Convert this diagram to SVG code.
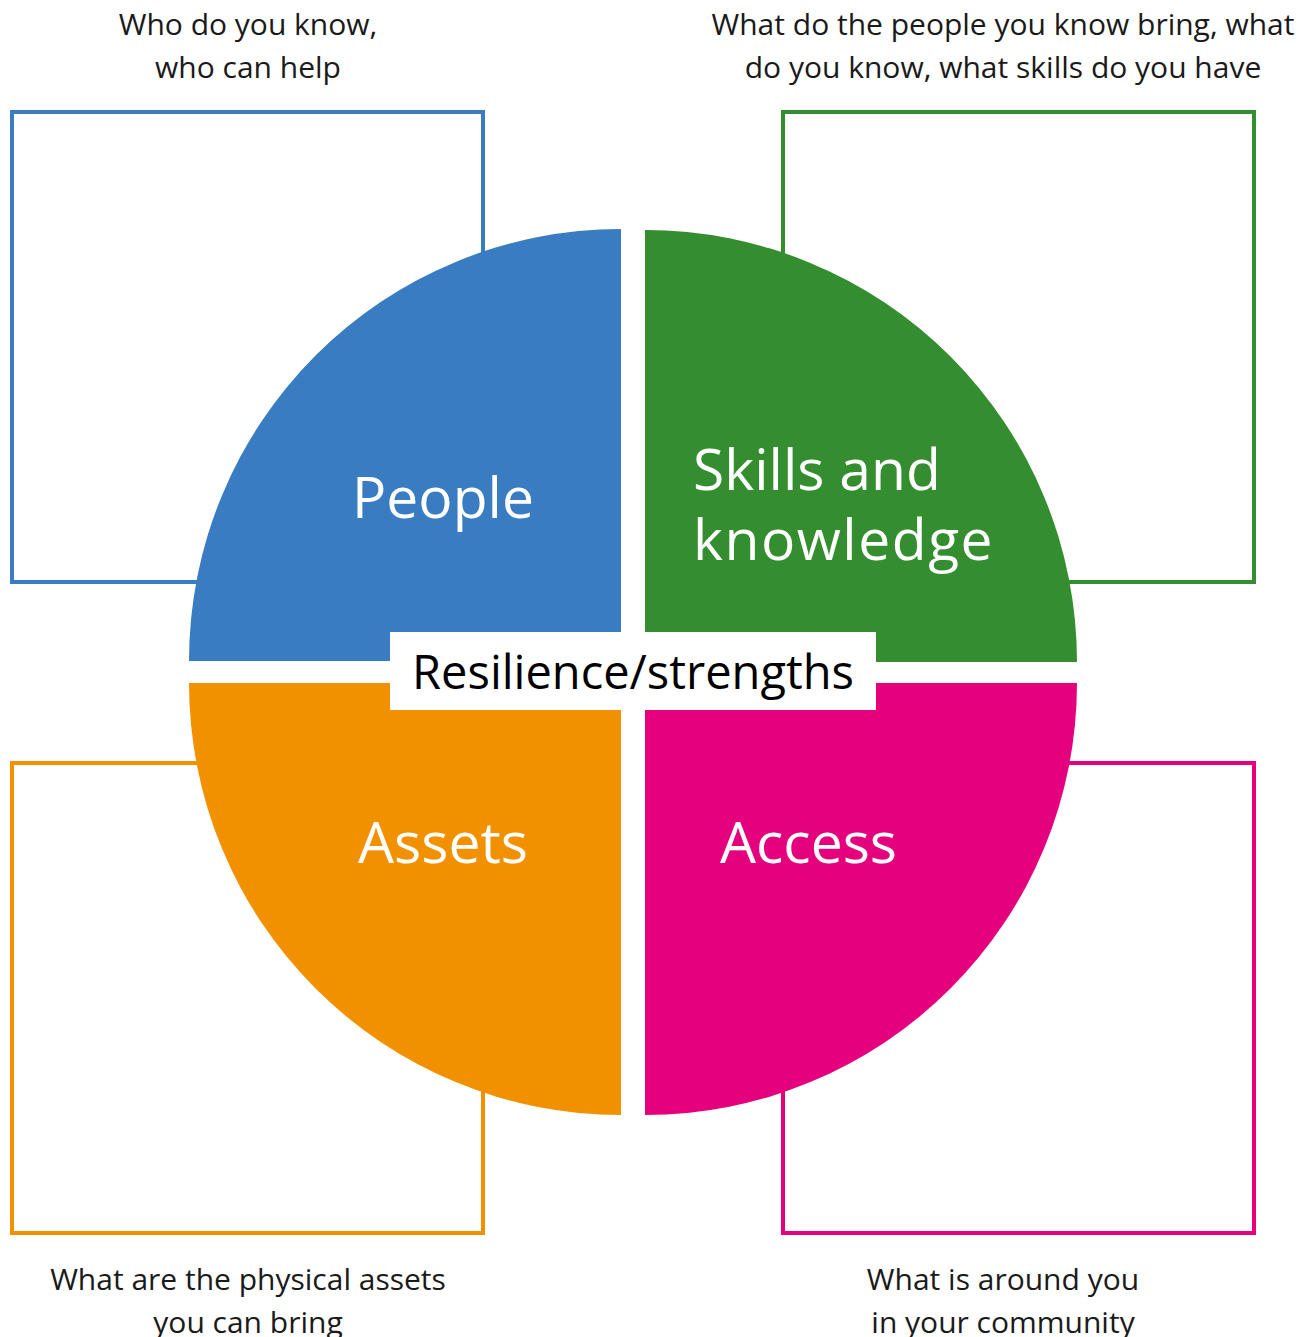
<svg xmlns="http://www.w3.org/2000/svg" width="1312" height="1337" viewBox="0 0 1312 1337">
<style>
.box{fill:none;stroke-width:4}
.cap{font-family:"Open Sans","Noto Sans",sans-serif;font-size:30px;fill:#1a1a1a;text-anchor:middle}
.lbl{font-family:"Open Sans","Noto Sans",sans-serif;font-size:57px;fill:#ffffff}
.mid{font-family:"Open Sans","Noto Sans",sans-serif;font-size:47px;fill:#000000;text-anchor:middle}
</style>
<rect width="1312" height="1337" fill="#ffffff"/>
<g id="people">
<rect class="box" x="12" y="112" width="471" height="470" stroke="#397CC1"/>
<path d="M621,661 L189,661 A432,432 0 0 1 621,229 Z" fill="#397CC1"/>
<text class="lbl" x="443" y="518" text-anchor="middle">People</text>
<text class="cap" x="248" y="35">Who do you know,</text>
<text class="cap" x="248" y="78">who can help</text>
</g>
<g id="skills">
<rect class="box" x="783" y="112" width="471" height="470" stroke="#348E2F"/>
<path d="M645,662 L645,230 A432,432 0 0 1 1077,662 Z" fill="#348E2F"/>
<text class="lbl" x="693" y="490">Skills and</text>
<text class="lbl" x="693" y="560" letter-spacing="1.5">knowledge</text>
<text class="cap" x="1003" y="35">What do the people you know bring, what</text>
<text class="cap" x="1003" y="78">do you know, what skills do you have</text>
</g>
<g id="assets">
<rect class="box" x="12" y="763" width="471" height="470" stroke="#F29100"/>
<path d="M621,683 L621,1115 A432,432 0 0 1 189,683 Z" fill="#F29100"/>
<text class="lbl" x="443" y="863" text-anchor="middle">Assets</text>
<text class="cap" x="248" y="1290">What are the physical assets</text>
<text class="cap" x="248" y="1333">you can bring</text>
</g>
<g id="access">
<rect class="box" x="783" y="763" width="471" height="470" stroke="#E5007D"/>
<path d="M645,683 L1077,683 A432,432 0 0 1 645,1115 Z" fill="#E5007D"/>
<text class="lbl" x="720" y="863">Access</text>
<text class="cap" x="1003" y="1290">What is around you</text>
<text class="cap" x="1003" y="1333">in your community</text>
</g>
<g id="resilience">
<rect x="390" y="632" width="486" height="78" fill="#ffffff"/>
<text class="mid" x="633" y="689">Resilience/strengths</text>
</g>
<g id="connectors"></g>
</svg>
